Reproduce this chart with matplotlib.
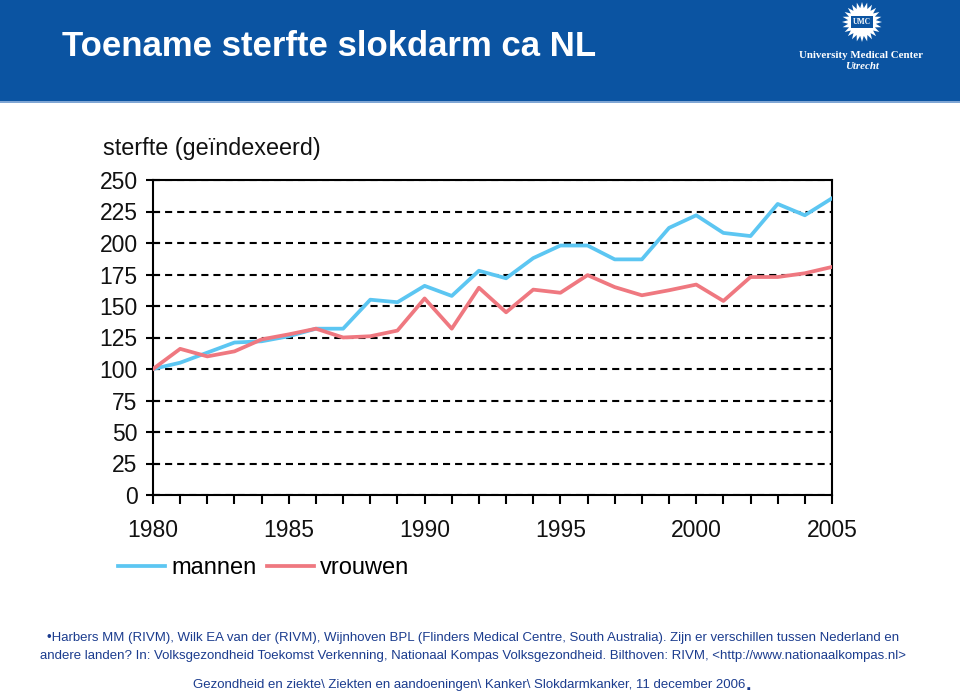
import matplotlib
matplotlib.use("Agg")
import matplotlib.pyplot as plt
from matplotlib.patches import Rectangle, Polygon
import numpy as np

years = list(range(1980, 2006))
mannen = [100, 105, 113, 121, 122, 126, 132, 132, 155, 153, 166, 158, 178, 172,
          188, 198, 198, 187, 187, 212, 222, 208, 205.5, 231, 222, 235.5]
vrouwen = [100, 116, 110, 114, 123.5, 127.5, 132, 125, 126, 130.5, 156, 132, 164.5, 145,
           163, 160.5, 174.5, 165, 158.5, 162.5, 167, 154, 173, 173, 176, 181]
yticks = [0, 25, 50, 75, 100, 125, 150, 175, 200, 225, 250]
xticks = [1980, 1985, 1990, 1995, 2000, 2005]

title = "Toename sterfte slokdarm ca NL"
ylabel = "sterfte (geïndexeerd)"
series_names = ["mannen", "vrouwen"]
footer1 = ("\u2022Harbers MM (RIVM), Wilk EA van der (RIVM), Wijnhoven BPL (Flinders Medical Centre, "
           "South Australia). Zijn er verschillen tussen Nederland en")
footer2 = ("andere landen? In: Volksgezondheid Toekomst Verkenning, Nationaal Kompas Volksgezondheid. "
           "Bilthoven: RIVM, <http://www.nationaalkompas.nl>")
footer3 = "Gezondheid en ziekte\\ Ziekten en aandoeningen\\ Kanker\\ Slokdarmkanker, 11 december 2006"

W, H = 960, 692
def fx(x): return x / W
def fy(y): return 1 - y / H

BAND = "#0b54a2"
NAVY = "#1b3c8e"
BLUE = "#5cc6f2"
RED = "#ef7880"

plt.rcParams['font.family'] = ['Liberation Sans', 'DejaVu Sans']
fig = plt.figure(figsize=(9.6, 6.92), dpi=100)
fig.patch.set_facecolor("white")

# header band
fig.patches.append(Rectangle((0, fy(101)), 1, 101 / H, transform=fig.transFigure,
                             facecolor=BAND, edgecolor="none", zorder=0))
fig.patches.append(Rectangle((0, fy(103)), 1, 2 / H, transform=fig.transFigure,
                             facecolor="#7fa6d4", edgecolor="none", zorder=0))
fig.text(fx(62), fy(46), title, color="white", fontsize=25, fontweight="bold",
         ha="left", va="center")

# logo
cx, cy, r_out, r_in = 862, 22, 20, 14
n = 24
pts = []
for i in range(2 * n):
    ang = np.pi * i / n
    r = r_out if i % 2 == 0 else r_in
    pts.append((fx(cx + r * np.cos(ang)), fy(cy + r * np.sin(ang))))
fig.patches.append(Polygon(pts, closed=True, transform=fig.transFigure,
                           facecolor="white", edgecolor="none", zorder=1))
fig.patches.append(Rectangle((fx(cx - 11), fy(cy + 6)), 22 / W, 12 / H, transform=fig.transFigure,
                             facecolor=BAND, edgecolor="none", zorder=2))
fig.text(fx(cx), fy(cy), "UMC", color="white", fontsize=5.5, fontweight="bold",
         family="Liberation Serif", ha="center", va="center", zorder=3)
fig.text(fx(861), fy(55), "University Medical Center", color="white", fontsize=7.8,
         fontweight="bold", family="Liberation Serif", ha="center", va="center")
fig.text(fx(862), fy(66.5), "Utrecht", color="white", fontsize=7.8, fontweight="bold",
         style="italic", family="Liberation Serif", ha="center", va="center")

# chart
ax = fig.add_axes([fx(153), fy(495), (832 - 153) / W, (495 - 180) / H])
ax.plot(years, mannen, color=BLUE, lw=2.7, label=series_names[0], zorder=3,
        solid_joinstyle="round")
ax.plot(years, vrouwen, color=RED, lw=2.7, label=series_names[1], zorder=3,
        solid_joinstyle="round")
ax.set_xlim(1980, 2005)
ax.set_ylim(0, 250)
ax.set_yticks(yticks)
ax.set_xticks(xticks)
ax.set_xticks(years, minor=True)
ax.yaxis.grid(True, color="black", lw=1.5, linestyle=(0, (3.4, 2.4)))
ax.set_axisbelow(True)
for s in ax.spines.values():
    s.set_linewidth(1.5)
    s.set_color("black")
ax.tick_params(axis="y", direction="inout", length=10, width=1.5, labelsize=16.5, pad=6)
ax.tick_params(axis="x", which="both", direction="out", length=6.5, width=1.5)
ax.tick_params(axis="x", which="major", labelsize=16.5, pad=11)
for lab in ax.get_xticklabels() + ax.get_yticklabels():
    lab.set_color("#111111")

fig.text(fx(103), fy(148), ylabel, fontsize=16.8, color="#111111", ha="left", va="center")

fig.legend(loc="center left", bbox_to_anchor=(fx(118), fy(568)), ncol=2, frameon=False,
           fontsize=17, handlelength=2.0, handletextpad=0.25, columnspacing=0.45,
           borderaxespad=0, borderpad=0)

# footer
fig.text(fx(473), fy(638), footer1, color=NAVY, fontsize=9.5, ha="center", va="center")
fig.text(fx(473), fy(656), footer2, color=NAVY, fontsize=9.5, ha="center", va="center")
fig.text(fx(469), fy(685), footer3, color=NAVY, fontsize=9.5, ha="center", va="center")
fig.text(fx(746), fy(685), ".", color=NAVY, fontsize=14, fontweight="bold",
         ha="left", va="center")

fig.savefig("out.png", dpi=100)
